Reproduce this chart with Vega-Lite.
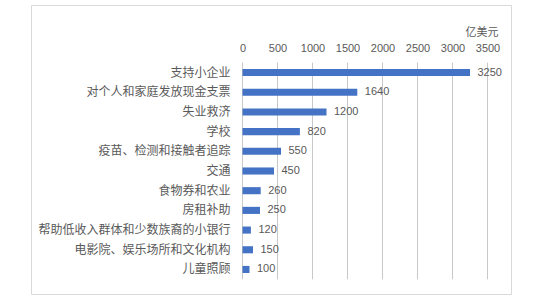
{
  "$schema": "https://vega.github.io/schema/vega-lite/v6.json",
  "width": 480,
  "height": 289,
  "autosize": "none",
  "padding": {"left": 31, "top": 5, "right": 34, "bottom": 6},
  "background": "white",
  "config": {"view": {"stroke": "#d9d9d9", "strokeWidth": 1}},
  "datasets": {
    "budget": [
      {"item": "支持小企业", "value": 3250},
      {"item": "对个人和家庭发放现金支票", "value": 1640},
      {"item": "失业救济", "value": 1200},
      {"item": "学校", "value": 820},
      {"item": "疫苗、检测和接触者追踪", "value": 550},
      {"item": "交通", "value": 450},
      {"item": "食物券和农业", "value": 260},
      {"item": "房租补助", "value": 250},
      {"item": "帮助低收入群体和少数族裔的小银行", "value": 120},
      {"item": "电影院、娱乐场所和文化机构", "value": 150},
      {"item": "儿童照顾", "value": 100}
    ],
    "grid": [
      {"g": 0}, {"g": 500}, {"g": 1000}, {"g": 1500}, {"g": 2000}, {"g": 2500}, {"g": 3000}, {"g": 3500}
    ]
  },
  "layer": [
    {
      "data": {"name": "grid"},
      "mark": {"type": "rule", "color": "#c8c8c8", "strokeWidth": 1, "yOffset": -6.3, "y2Offset": 6.3},
      "encoding": {
        "x": {"field": "g", "type": "quantitative"},
        "y": {"datum": "支持小企业", "type": "nominal", "bandPosition": 0},
        "y2": {"datum": "儿童照顾", "bandPosition": 1}
      }
    },
    {
      "data": {"name": "budget"},
      "encoding": {
        "y": {
          "field": "item",
          "type": "nominal",
          "sort": null,
          "scale": {
            "domain": ["支持小企业", "对个人和家庭发放现金支票", "失业救济", "学校", "疫苗、检测和接触者追踪", "交通", "食物券和农业", "房租补助", "帮助低收入群体和少数族裔的小银行", "电影院、娱乐场所和文化机构", "儿童照顾"],
            "range": [57.7, 274.3],
            "paddingInner": 0.64,
            "paddingOuter": 0.32
          },
          "axis": {
            "orient": "left",
            "offset": -211.5,
            "title": null,
            "ticks": false,
            "domain": false,
            "grid": false,
            "labelPadding": 12.5,
            "labelFont": "Noto Sans CJK SC",
            "labelFontSize": 12,
            "labelColor": "#595959",
            "labelLimit": 300
          }
        },
        "x": {
          "field": "value",
          "type": "quantitative",
          "scale": {"domain": [0, 3500], "range": [211.5, 456.5], "nice": false},
          "axis": {
            "orient": "top",
            "offset": -57.7,
            "values": [0, 500, 1000, 1500, 2000, 2500, 3000, 3500],
            "format": "d",
            "labelOverlap": false,
            "labelFlush": false,
            "ticks": false,
            "domain": false,
            "grid": false,
            "labelPadding": 9,
            "labelFont": "Liberation Sans",
            "labelFontSize": 11,
            "labelColor": "#595959",
            "title": "亿美元",
            "titleX": 467,
            "titleY": -30.7,
            "titleAlign": "right",
            "titleBaseline": "middle",
            "titleFont": "Noto Sans CJK SC",
            "titleFontSize": 11,
            "titleFontWeight": "normal",
            "titleColor": "#595959"
          }
        }
      },
      "layer": [
        {"mark": {"type": "bar", "color": "#4472C4"}},
        {
          "mark": {"type": "text", "align": "left", "baseline": "middle", "dx": 7.5, "font": "Liberation Sans", "fontSize": 11, "color": "#595959"},
          "encoding": {"text": {"field": "value", "type": "quantitative"}}
        }
      ]
    }
  ]
}
